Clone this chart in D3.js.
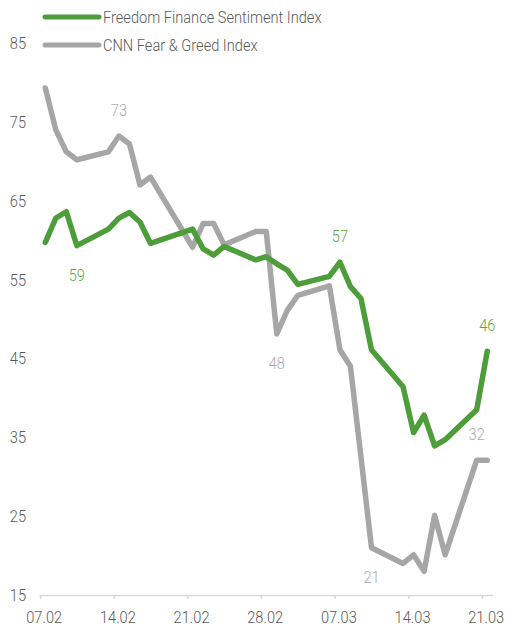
<!DOCTYPE html>
<html>
<head>
  <meta charset='utf-8'>
  <title>Freedom Finance vs CNN Fear & Greed</title>
  <script src='https://cdn.jsdelivr.net/npm/d3@7/dist/d3.min.js'></script>
  <style>
    body { margin: 0; background: #fff; }
    text { font-family: Roboto, 'DejaVu Sans Condensed', sans-serif; font-weight: 300; }
  </style>
</head>
<body>
  <svg id='plot-area' width='506' height='630'></svg>
  <script>
    // days counted from 07.02, data points sit in the middle of each day
    const tickLabels = ['07.02', '14.02', '21.02', '28.02', '07.03', '14.03', '21.03'];
    const yTicks = [15, 25, 35, 45, 55, 65, 75, 85];
    const days = [0, 1, 2, 3, 6, 7, 8, 9, 10, 14, 15, 16, 17, 20, 21, 22, 23, 24,
      27, 28, 29, 30, 31, 34, 35, 36, 37, 38, 41, 42];
    const freedom = [59.7, 62.8, 63.6, 59.3, 61.4, 62.8, 63.5, 62.3, 59.6, 61.4, 58.9, 58.1, 59.2,
      57.5, 57.9, 57.0, 56.2, 54.4, 55.4, 57.2, 54.1, 52.6, 46.1, 41.4, 35.6, 37.8, 33.9, 34.7, 38.5, 45.9];
    const cnn = [79.3, 74.0, 71.2, 70.2, 71.2, 73.2, 72.2, 67.0, 68.0, 59.1, 62.1, 62.1, 59.4,
      61.1, 61.1, 48.1, 51.1, 53.0, 54.2, 46.1, 44.0, 32.5, 21.0, 19.0, 20.1, 18.0, 25.1, 20.1, 32.1, 32.1];
    // days that carry a value label
    const freedomLabelsAbove = [28, 42];
    const freedomLabelsBelow = [3];
    const cnnLabelsAbove = [7, 41];
    const cnnLabelsBelow = [22, 31];

    const green = '#4e9d3b';
    const grey = '#a6a6a6';
    const narrow = 0.86; // the original font is a condensed one

    const svg = d3.select('#plot-area');
    const x = d3.scaleLinear().domain([0, 43]).range([40, 492.5]);
    const y = d3.scaleLinear().domain([15, 85]).range([595, 43]);

    // squeeze a text horizontally around its anchor point
    const place = (sel, fx, fy) => sel
      .attr('transform', (d, i) => `translate(${fx(d, i)}, ${fy(d, i)}) scale(${narrow}, 1)`);

    // y labels
    svg.append('g')
      .selectAll('text')
      .data(yTicks)
      .join('text')
      .call(place, () => 26, (d) => y(d))
      .attr('dy', '0.35em')
      .attr('text-anchor', 'end')
      .attr('fill', '#595959')
      .attr('font-size', 17)
      .text((d) => d);

    // x axis: tick marks on day boundaries, labels centred on the day
    const axis = svg.append('g').attr('transform', `translate(0, ${y(15)})`);
    axis.call(d3.axisBottom(x)
      .tickValues(tickLabels.map((d, i) => i * 7))
      .tickSize(4)
      .tickSizeOuter(0)
      .tickFormat(''));
    axis.selectAll('path, line').attr('stroke', '#d9d9d9').attr('stroke-width', 1.5);
    axis.append('g')
      .selectAll('text')
      .data(tickLabels)
      .join('text')
      .call(place, (d, i) => x(i * 7 + 0.4), () => 28)
      .attr('text-anchor', 'middle')
      .attr('fill', '#595959')
      .attr('font-size', 17)
      .text((d) => d);

    const line = d3.line()
      .x((d) => x(d[0] + 0.5))
      .y((d) => y(d[1]));

    const series = [
      { values: cnn, color: grey },
      { values: freedom, color: green }
    ];
    series.forEach((s) => {
      svg.append('path')
        .datum(days.map((d, i) => [d, s.values[i]]))
        .attr('fill', 'none')
        .attr('stroke', s.color)
        .attr('stroke-width', 5.5)
        .attr('stroke-linejoin', 'round')
        .attr('stroke-linecap', 'round')
        .attr('d', line);
    });

    // value labels
    const addLabels = (list, values, color, dy) => {
      svg.append('g')
        .selectAll('text')
        .data(list)
        .join('text')
        .call(place, (d) => x(d + 0.5), (d) => y(values[days.indexOf(d)]) + dy)
        .attr('text-anchor', 'middle')
        .attr('fill', color)
        .attr('font-size', 17)
        .text((d) => Math.round(values[days.indexOf(d)]));
    };
    addLabels(freedomLabelsAbove, freedom, '#5ea646', -20);
    addLabels(freedomLabelsBelow, freedom, '#5ea646', 35);
    addLabels(cnnLabelsAbove, cnn, '#ababab', -20);
    addLabels(cnnLabelsBelow, cnn, '#ababab', 35);

    // legend
    const legend = [
      { name: 'Freedom Finance Sentiment Index', color: green },
      { name: 'CNN Fear & Greed Index', color: grey }
    ];
    const lg = svg.append('g')
      .selectAll('g')
      .data(legend)
      .join('g')
      .attr('transform', (d, i) => `translate(0, ${17 + i * 28})`);
    lg.append('line')
      .attr('x1', 45).attr('x2', 99)
      .attr('stroke', (d) => d.color)
      .attr('stroke-width', 5)
      .attr('stroke-linecap', 'round');
    lg.append('text')
      .call(place, () => 103, () => 0)
      .attr('dy', '0.35em')
      .attr('fill', '#595959')
      .attr('font-size', 17)
      .text((d) => d.name);
  </script>
</body>
</html>
